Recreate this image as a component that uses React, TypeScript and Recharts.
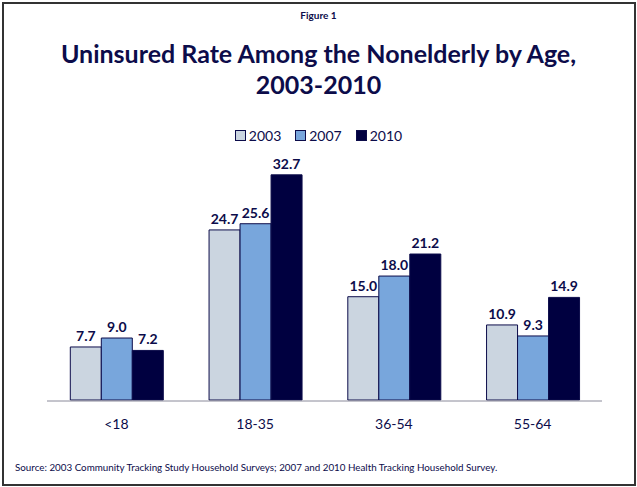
import React from "react";
import { BarChart, Bar, XAxis, YAxis, Legend, LabelList } from "recharts";

const AGE_GROUPS = ["<18", "18-35", "36-54", "55-64"];
const RATE_2003 = [7.7, 24.7, 15.0, 10.9];
const RATE_2007 = [9.0, 25.6, 18.0, 9.3];
const RATE_2010 = [7.2, 32.7, 21.2, 14.9];
const BOUNDARY_TICKS = [0, 1, 2, 3, 4];

const NAVY = "#0c0c4a";
const FONT = "Lato, 'Open Sans', sans-serif";

const data = AGE_GROUPS.map((age, i) => ({
  age,
  y2003: RATE_2003[i],
  y2007: RATE_2007[i],
  y2010: RATE_2010[i],
}));

const SERIES = [
  { key: "y2003", name: "2003", color: "#cbd5e0" },
  { key: "y2007", name: "2007", color: "#78a6dc" },
  { key: "y2010", name: "2010", color: "#000040" },
];

function LegendContent() {
  return (
    <div
      style={{
        display: "flex",
        justifyContent: "center",
        gap: 14,
        fontFamily: FONT,
        fontSize: 14,
        lineHeight: "17px",
        color: NAVY,
      }}
    >
      {SERIES.map((s) => (
        <div key={s.key} style={{ display: "flex", alignItems: "center", gap: 3 }}>
          <span
            style={{
              display: "inline-block",
              width: 9,
              height: 9,
              background: s.color,
              border: `1px solid ${NAVY}`,
            }}
          />
          <span>{s.name}</span>
        </div>
      ))}
    </div>
  );
}

export default function App() {
  return (
    <div
      style={{
        position: "fixed",
        left: 0,
        top: 0,
        width: 637,
        height: 487,
        background: "#fff",
        fontFamily: FONT,
      }}
    >
      <div
        style={{
          position: "absolute",
          left: 2,
          top: 2,
          width: 630,
          height: 480,
          border: "2px solid #333",
        }}
      />
      <div
        style={{
          position: "absolute",
          top: 9,
          width: 637,
          textAlign: "center",
          fontSize: 10,
          fontWeight: 700,
          color: NAVY,
        }}
      >
        Figure 1
      </div>
      <div
        style={{
          position: "absolute",
          top: 38,
          width: 637,
          textAlign: "center",
          fontSize: 25,
          lineHeight: "31px",
          fontWeight: 700,
          color: NAVY,
        }}
      >
        Uninsured Rate Among the Nonelderly by Age,
        <br />
        2003-2010
      </div>
      <div style={{ position: "absolute", left: 0, top: 0 }}>
        <BarChart
          width={637}
          height={487}
          data={data}
          margin={{ top: 142, right: 35, bottom: 58, left: 47 }}
          barCategoryGap="16.8%"
          barGap={0}
        >
          {/* category labels sit on a 1px-high axis, text overflows below it */}
          <XAxis
            dataKey="age"
            axisLine={false}
            tickLine={false}
            height={1}
            tick={{ fill: NAVY, fontSize: 14, fontFamily: FONT }}
            tickMargin={13}
          />
          {/* boundary ticks between categories, like the original */}
          <XAxis
            xAxisId="bounds"
            type="number"
            domain={[0, 4]}
            ticks={BOUNDARY_TICKS}
            allowDataOverflow
            tick={false}
            tickSize={5}
            height={28}
            axisLine={{ stroke: "#8a8a9a" }}
            tickLine={{ stroke: "#8a8a9a" }}
          />
          <YAxis hide domain={[0, 35]} />
          <Legend
            verticalAlign="top"
            content={LegendContent}
            wrapperStyle={{ top: 127, left: 0, width: 637 }}
          />
          {SERIES.map((s) => (
            <Bar
              key={s.key}
              dataKey={s.key}
              name={s.name}
              fill={s.color}
              stroke={NAVY}
              strokeWidth={1}
              isAnimationActive={false}
            >
              <LabelList
                dataKey={s.key}
                position="top"
                offset={6}
                formatter={(v: number) => v.toFixed(1)}
                style={{ fill: NAVY, fontSize: 14, fontWeight: 700, fontFamily: FONT }}
              />
            </Bar>
          ))}
        </BarChart>
      </div>
      <div
        style={{
          position: "absolute",
          left: 15,
          top: 461,
          fontSize: 9.8,
          color: NAVY,
        }}
      >
        Source: 2003 Community Tracking Study Household Surveys; 2007 and 2010 Health Tracking Household Survey.
      </div>
    </div>
  );
}
